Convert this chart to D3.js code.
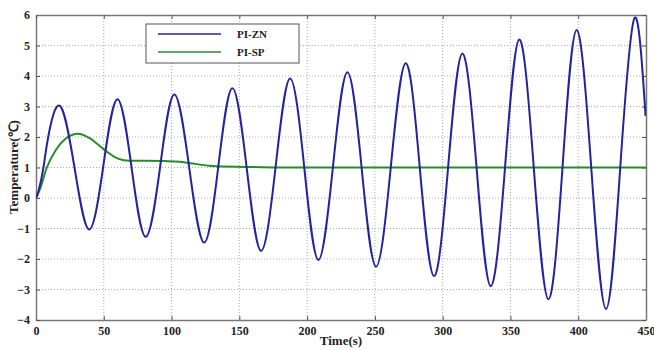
<!DOCTYPE html>
<html><head><meta charset="utf-8">
<script src="https://cdn.jsdelivr.net/npm/d3@7"></script>
<style>body{margin:0;background:#fff}svg{display:block}</style>
</head><body>
<svg id="c" width="654" height="350"></svg>
<script>
const xTicks = [0,50,100,150,200,250,300,350,400,450];
const yTicks = [-4,-3,-2,-1,0,1,2,3,4,5,6];
const seriesNames = ["PI-ZN","PI-SP"];
// PI-ZN: start, peaks, crossings, troughs
const znTime = [0,2,5.5,9,17.7,28.4,39.1,49.5,60,70.5,80.9,91.5,102,113,124,134.4,144.8,155.4,166,176.7,187.4,197.9,208.3,219,229.7,240.2,250.8,261.7,272.7,283.1,293.6,304,314.5,325,335.4,346,356.5,367.2,378,388.4,398.8,409.6,420.5,431,441.4,449.7];
const znValue = [0,0.25,1,2,3.02,1,-1.03,1,3.24,1,-1.27,1,3.39,1,-1.46,1,3.6,1,-1.73,1,3.92,1,-2.03,1,4.12,1,-2.25,1,4.42,1,-2.56,1,4.74,1,-2.89,1,5.2,1,-3.32,1,5.51,1,-3.64,1,5.89,2.69];
// PI-SP
const spTime = [0,3,8,15,22,31,40,51.6,60,69,80,95,106,114,130,155,180,250,350,450];
const spValue = [0,0.3,1,1.6,1.95,2.11,1.95,1.54,1.3,1.22,1.22,1.21,1.19,1.14,1.05,1.02,1.0,1.0,1.0,1.0];

const svg = d3.select("#c");
const L=36,R=646,T=15,B=320;
const x = d3.scaleLinear().domain([0,450]).range([L,R]);
const y = d3.scaleLinear().domain([-4,6]).range([B,T]);
const font = "'Liberation Serif','Times New Roman',serif";

// grid
svg.append("g").selectAll("line").data(xTicks.slice(1,-1)).join("line")
  .attr("x1",d=>x(d)).attr("x2",d=>x(d)).attr("y1",T).attr("y2",B)
  .attr("stroke","#aaa").attr("stroke-width",1).attr("stroke-dasharray","1,2");
svg.append("g").selectAll("line").data(yTicks.slice(1,-1)).join("line")
  .attr("y1",d=>y(d)).attr("y2",d=>y(d)).attr("x1",L).attr("x2",R)
  .attr("stroke","#aaa").attr("stroke-width",1).attr("stroke-dasharray","1,2");

// axes
const ax = svg.append("g").attr("transform",`translate(0,${B})`)
  .call(d3.axisBottom(x).tickValues(xTicks).tickSizeInner(-4).tickSizeOuter(0).tickPadding(6));
const ay = svg.append("g").attr("transform",`translate(${L},0)`)
  .call(d3.axisLeft(y).tickValues(yTicks).tickSizeInner(-4).tickSizeOuter(0).tickPadding(6));
const ax2 = svg.append("g").attr("transform",`translate(0,${T})`)
  .call(d3.axisTop(x).tickValues(xTicks).tickSizeInner(-4).tickSizeOuter(0).tickFormat(""));
const ay2 = svg.append("g").attr("transform",`translate(${R},0)`)
  .call(d3.axisRight(y).tickValues(yTicks).tickSizeInner(-4).tickSizeOuter(0).tickFormat(""));
[ax,ay,ax2,ay2].forEach(g=>{
  g.select(".domain").attr("stroke","#777").attr("stroke-width",1.5);
  g.selectAll(".tick line").attr("stroke","#555");
  g.selectAll("text").attr("font-family",font).attr("font-weight","bold").attr("font-size",12).attr("fill","#222");
});

// lines
const clip = svg.append("clipPath").attr("id","pc").append("rect")
  .attr("x",L).attr("y",T).attr("width",R-L).attr("height",B-T);
const znData = znTime.map((t,i)=>[t,znValue[i]]);
const spData = spTime.map((t,i)=>[t,spValue[i]]);
svg.append("path").datum(spData).attr("clip-path","url(#pc)")
  .attr("d",d3.line().x(d=>x(d[0])).y(d=>y(d[1])).curve(d3.curveMonotoneX))
  .attr("fill","none").attr("stroke","#2a8a2a").attr("stroke-width",2);
svg.append("path").datum(znData).attr("clip-path","url(#pc)")
  .attr("d",d3.line().x(d=>x(d[0])).y(d=>y(d[1])).curve(d3.curveNatural))
  .attr("fill","none").attr("stroke","#2323a0").attr("stroke-width",2);

// legend
const lg = svg.append("g");
lg.append("rect").attr("x",146).attr("y",24).attr("width",153).attr("height",39)
  .attr("fill","#fff").attr("stroke","#555").attr("stroke-width",1);
const lcol = ["#2323a0","#2a8a2a"];
seriesNames.forEach((n,i)=>{
  const yy = 34 + i*18;
  lg.append("line").attr("x1",158).attr("x2",221).attr("y1",yy).attr("y2",yy)
    .attr("stroke",lcol[i]).attr("stroke-width",1.5);
  lg.append("text").attr("x",237).attr("y",yy+4).text(n)
    .attr("font-family",font).attr("font-weight","bold").attr("font-size",11).attr("fill","#222");
});

// axis titles
svg.append("text").attr("x",341).attr("y",345).attr("text-anchor","middle")
  .attr("font-family",font).attr("font-weight","bold").attr("font-size",13).attr("fill","#222")
  .text("Time(s)");
svg.append("text").attr("transform","translate(18,167) rotate(-90)").attr("text-anchor","middle")
  .attr("font-family",font).attr("font-weight","bold").attr("font-size",13).attr("fill","#222")
  .text("Temperature(℃)");
</script>
</body></html>
